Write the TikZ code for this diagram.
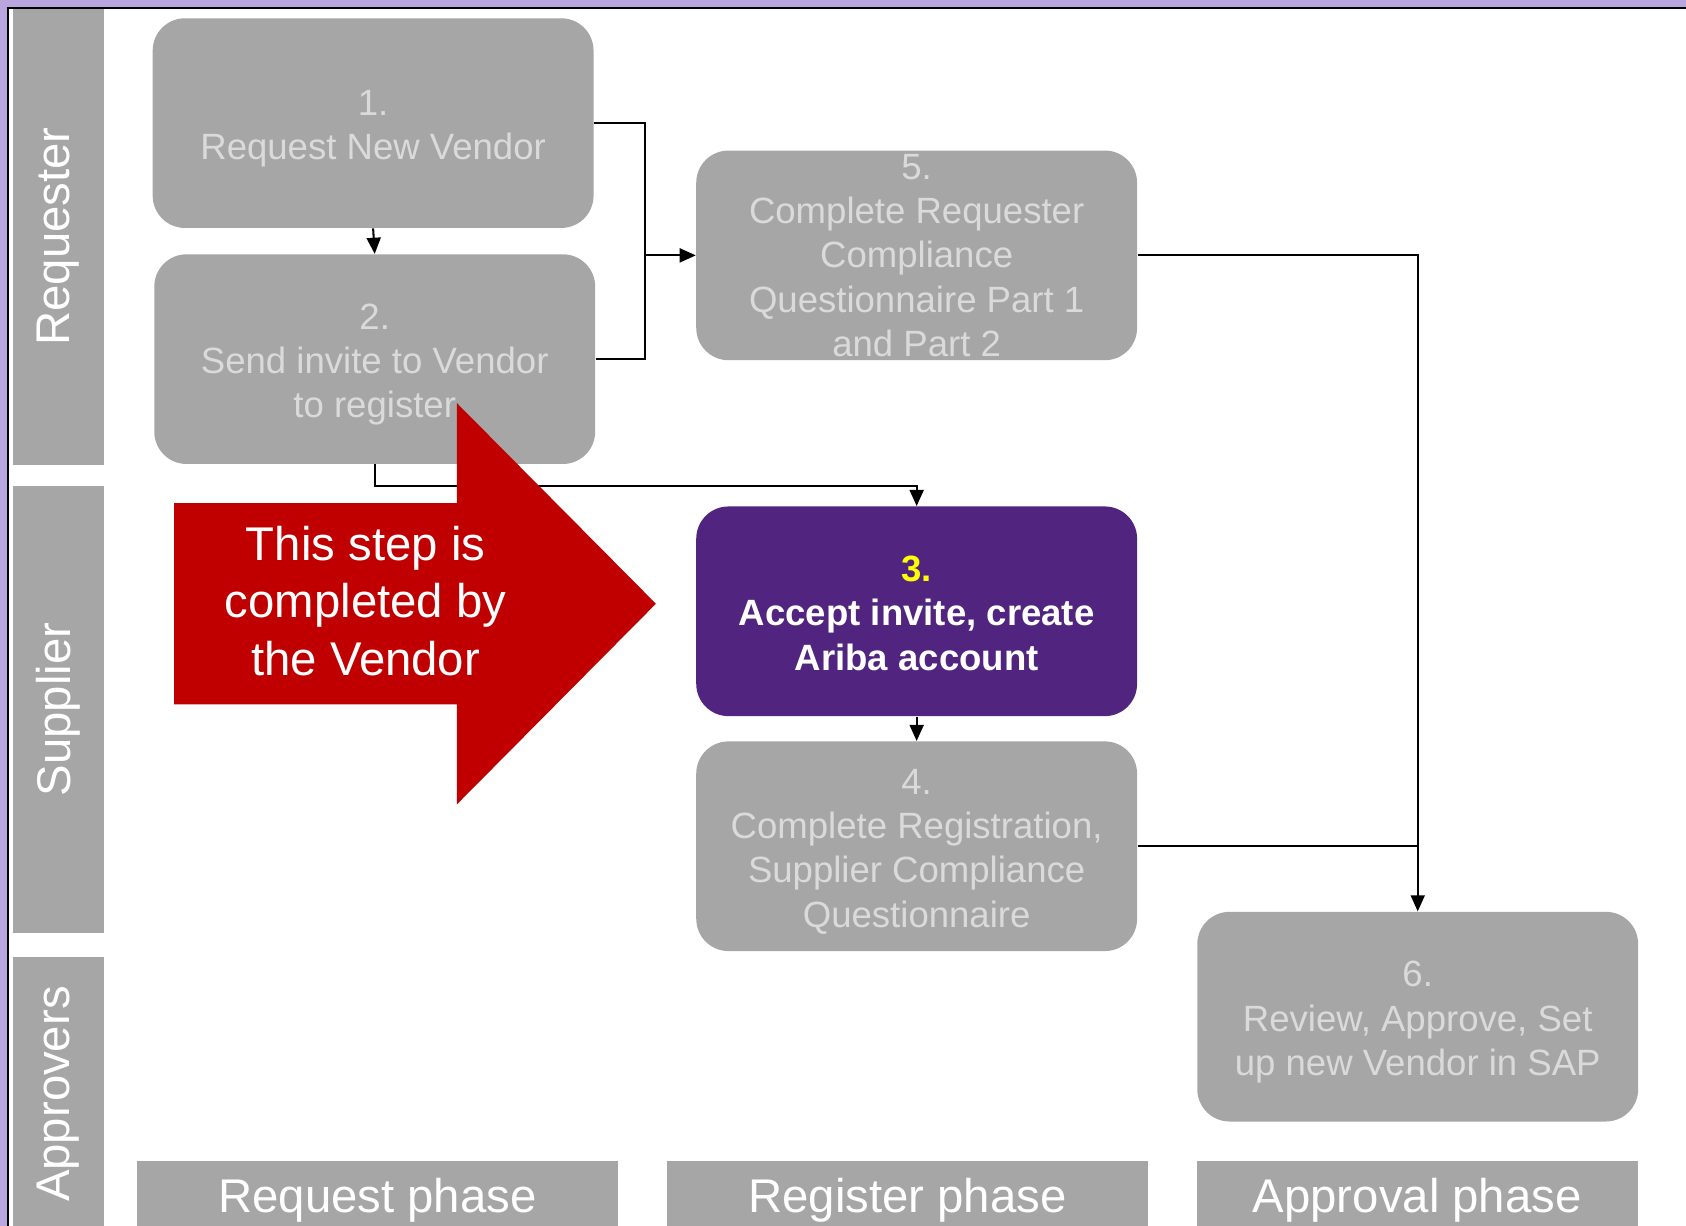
\documentclass[tikz,border=0pt]{standalone}
\usepackage{fontspec}
\setmainfont{Liberation Sans}
\usetikzlibrary{arrows.meta}
\definecolor{lanegray}{HTML}{A6A6A6}
\definecolor{boxtext}{HTML}{DADADA}
\definecolor{stepviolet}{HTML}{51247F}
\definecolor{arrowred}{HTML}{C00000}
\definecolor{framepurple}{HTML}{B9A6DE}
\definecolor{tipyellow}{HTML}{FFFF00}
\newcommand\tstr{\rule{0pt}{1.01em}}
\newcommand\bstr{\rule[-0.22em]{0pt}{0.22em}}
\begin{document}
\begin{tikzpicture}[x=0.5pt,y=-0.5pt,
  lane/.style={fill=lanegray, text=white, rotate=90, inner sep=0pt,
    minimum height=42.5pt, font=\fontsize{22}{26}\selectfont},
  phase/.style={fill=lanegray, text=white, inner sep=0pt,
    text height=19.8pt, text depth=4.7pt,
    minimum height=32.5pt, font=\fontsize{22}{26}\selectfont},
  gbox/.style={fill=lanegray, text=boxtext, rounded corners=15pt,
    minimum width=205pt, minimum height=97.5pt, inner sep=0pt,
    align=center, font=\fontsize{17}{20.6}\selectfont},
  vbox/.style={gbox, fill=stepviolet, text=white,
    font=\fontsize{17}{20.6}\selectfont\bfseries},
  link/.style={line width=0.95pt, black},
  conn/.style={link, -{Triangle[length=7.5pt,width=6.5pt]}},
  calltext/.style={text=white, align=center, inner sep=0pt,
    font=\fontsize{22}{26.75}\selectfont}]
\useasboundingbox (0,0) rectangle (1568,1140);
% frame
\fill[framepurple] (0,0) rectangle (1568,6.5);
\fill[framepurple] (0,0) rectangle (6.5,1140);
\draw[line width=0.95pt] (7.5,1140) -- (7.5,7.5) -- (1568,7.5);
% swimlane labels
\node[lane, minimum width=212pt] (lreq) at (54.5,220) {Requester};
\node[lane, minimum width=208pt] (lsup) at (54.5,660) {Supplier};
\node[lane, minimum width=127.5pt] (lapp) at (54.5,1017.5) {Approvers};
% phase labels
\node[phase, minimum width=224pt] (preq) at (351,1112.5) {Request phase};
\node[phase, minimum width=224pt] (preg) at (844,1112.5) {Register phase};
\node[phase, minimum width=205pt] (papp) at (1318,1112.5) {Approval phase};
% steps
\node[gbox] (b1) at (347,114.5) {\tstr 1.\\Request New Vendor\bstr};
\node[gbox] (b2) at (348.5,334) {\tstr 2.\\Send invite to Vendor\\to register\bstr};
\node[gbox] (b5) at (852.5,237.5) {5.\\Complete Requester\\Compliance\\Questionnaire Part 1\\and Part 2};
\node[vbox] (b3) at (852.5,568.5) {\tstr\textcolor{tipyellow}{3.}\\Accept invite, create\\Ariba account\bstr};
\node[gbox] (b4) at (852.5,787) {\tstr 4.\\Complete Registration,\\Supplier Compliance\\Questionnaire\bstr};
\node[gbox] (b6) at (1318.5,945.5) {\tstr 6.\\Review, Approve, Set\\up new Vendor in SAP\bstr};
% connectors
\coordinate (j5) at (600,237.5);
\draw[conn] (b1.south) -- (b2.north);
\draw[link] (b1.east) -| (j5);
\draw[link] (b2.east) -| (j5);
\draw[conn] (j5) -- (b5.west);
\draw[conn] (b2.south) -- ++(0,20) -| (b3.north);
\draw[conn] (b3.south) -- (b4.north);
\draw[conn] (b5.east) -| (b6.north);
\draw[link] (b4.east) -- (b4.east -| b6.north);
% callout arrow
\fill[arrowred] (162,468) -- (425,468) -- (425,375) -- (610,561.5) -- (425,748) -- (425,655) -- (162,655) -- cycle;
\node[calltext] (call) at (340,559) {This step is\\completed by\\the Vendor};
\end{tikzpicture}
\end{document}
